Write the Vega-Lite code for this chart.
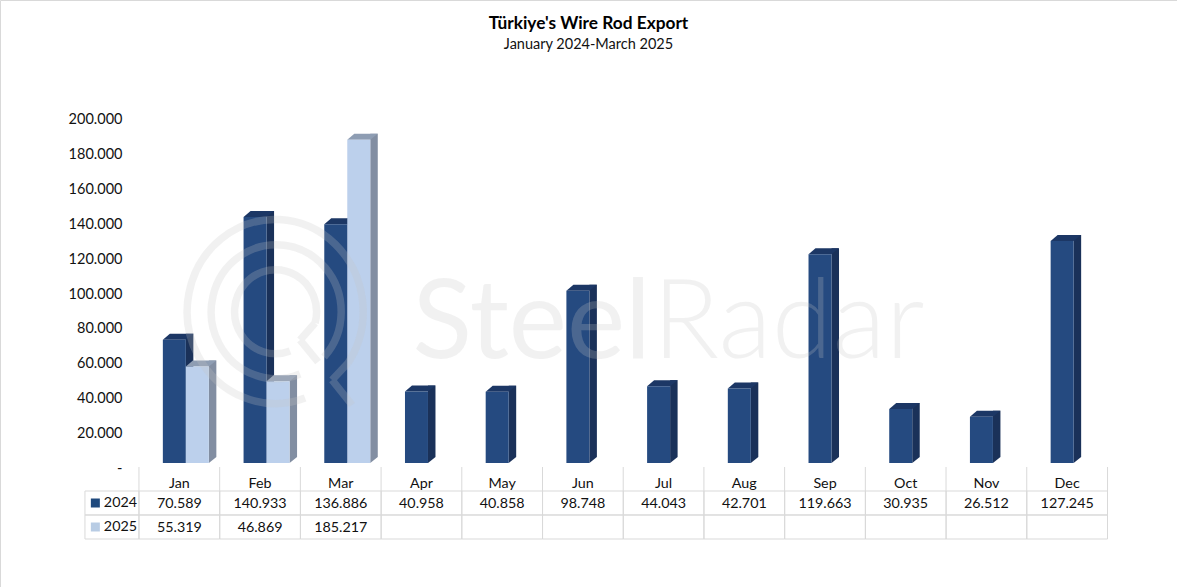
{"$schema":"https://vega.github.io/schema/vega-lite/v6.json","width":1177,"height":587,"padding":0,"autosize":{"type":"none"},"background":"white","view":{"stroke":"#d9d9d9","strokeWidth":1},
"config":{"text":{"font":"Lato","fontSize":14.3,"color":"#111111"},"axis":{"labelFont":"Lato"}},
"title":{"text":"Türkiye's Wire Rod Export","subtitle":"January 2024-March 2025","anchor":"middle","frame":"group","font":"Lato","fontSize":17.3,"fontWeight":"bold","color":"#000000","subtitleFont":"Lato","subtitleFontSize":14.5,"subtitleColor":"#111111","subtitlePadding":5,"offset":-51},
"data":{"values":[
{"month":"Jan","series":"2024","value":70589,"label":"70.589"},{"month":"Feb","series":"2024","value":140933,"label":"140.933"},{"month":"Mar","series":"2024","value":136886,"label":"136.886"},{"month":"Apr","series":"2024","value":40958,"label":"40.958"},{"month":"May","series":"2024","value":40858,"label":"40.858"},{"month":"Jun","series":"2024","value":98748,"label":"98.748"},{"month":"Jul","series":"2024","value":44043,"label":"44.043"},{"month":"Aug","series":"2024","value":42701,"label":"42.701"},{"month":"Sep","series":"2024","value":119663,"label":"119.663"},{"month":"Oct","series":"2024","value":30935,"label":"30.935"},{"month":"Nov","series":"2024","value":26512,"label":"26.512"},{"month":"Dec","series":"2024","value":127245,"label":"127.245"},
{"month":"Jan","series":"2025","value":55319,"label":"55.319"},{"month":"Feb","series":"2025","value":46869,"label":"46.869"},{"month":"Mar","series":"2025","value":185217,"label":"185.217"},{"month":"Apr","series":"2025","value":null,"label":""},{"month":"May","series":"2025","value":null,"label":""},{"month":"Jun","series":"2025","value":null,"label":""},{"month":"Jul","series":"2025","value":null,"label":""},{"month":"Aug","series":"2025","value":null,"label":""},{"month":"Sep","series":"2025","value":null,"label":""},{"month":"Oct","series":"2025","value":null,"label":""},{"month":"Nov","series":"2025","value":null,"label":""},{"month":"Dec","series":"2025","value":null,"label":""}
]},
"encoding":{"x":{"field":"month","type":"nominal","axis":null,"sort":null,"scale":{"type":"band","domain":["Jan","Feb","Mar","Apr","May","Jun","Jul","Aug","Sep","Oct","Nov","Dec"],"range":[139,1107.5],"paddingInner":0,"paddingOuter":0}}},
"layer":[
{"encoding":{"y":{"field":"value","type":"quantitative","stack":null,"scale":{"domain":[0,200000],"range":[463,114],"nice":false,"zero":true},"axis":{"orient":"left","title":null,"offset":-124,"values":[0,20000,40000,60000,80000,100000,120000,140000,160000,180000,200000],"domain":false,"ticks":false,"grid":false,"labelPadding":2,"labelOffset":5.5,"labelFontSize":14.5,"labelColor":"#111111","labelFont":"Lato","labelExpr":"datum.value == 0 ? '-' : replace(format(datum.value, ','), ',', '.')"}}},
"layer":[
{"transform":[{"filter":"datum.series == '2024' && datum.value != null"}],"layer":[
{"mark":{"type":"bar","width":7.5,"xOffset":10.25,"yOffset":-6,"y2Offset":-6,"fill":"#1a3159"},"encoding":{"y2":{"datum":0}}},
{"mark":{"type":"point","shape":"M11.5,-6L11.5,0L19,-6Z","size":4,"filled":true,"opacity":1,"fill":"#1a3159","xOffset":-5},"encoding":{"y":{"datum":0}}},
{"mark":{"type":"point","shape":"M-11.5,0L11.5,0L19,-6L-4.5,-6Z","size":4,"filled":true,"opacity":1,"fill":"#1c3765","xOffset":-5}},
{"mark":{"type":"bar","width":23,"xOffset":-5,"fill":"#254a80"},"encoding":{"y2":{"datum":0}}}
]},
{"transform":[{"filter":"datum.series == '2025' && datum.value != null"}],"layer":[
{"mark":{"type":"bar","width":7.5,"xOffset":33.25,"yOffset":-6,"y2Offset":-6,"fill":"#828ea2"},"encoding":{"y2":{"datum":0}}},
{"mark":{"type":"point","shape":"M11.5,-6L11.5,0L19,-6Z","size":4,"filled":true,"opacity":1,"fill":"#828ea2","xOffset":18},"encoding":{"y":{"datum":0}}},
{"mark":{"type":"point","shape":"M-11.5,0L11.5,0L19,-6L-4.5,-6Z","size":4,"filled":true,"opacity":1,"fill":"#8e9db3","xOffset":18}},
{"mark":{"type":"bar","width":23,"xOffset":18,"fill":"#bcd0ec"},"encoding":{"y2":{"datum":0}}}
]},
{"transform":[{"filter":"datum.series == '2024' && datum.month == 'Feb'"}],"mark":{"type":"point","shape":"M39,11A41,42 0 1 0 14,39M24,28L39,11M24,28L42,50M48,45A65,67 0 1 0 24,62M72,51A88,92 0 1 0 29,86M56,68L72,51M56,68L76,93","size":4,"filled":false,"fill":"transparent","stroke":"#c4c4c4","strokeWidth":7.5,"strokeOpacity":0.24,"opacity":1,"xOffset":16},"encoding":{"y":{"datum":86533}}},
{"transform":[{"filter":"datum.series == '2024' && datum.month == 'Apr'"}],"mark":{"type":"text","font":"Lato","fontSize":110,"align":"left","baseline":"alphabetic","color":"#c4c4c4","fill":"#c4c4c4","fillOpacity":0.24,"xOffset":-9},"encoding":{"y":{"datum":60172},"text":{"value":"Steel"}}},
{"transform":[{"filter":"datum.series == '2024' && datum.month == 'Jul'"}],"mark":{"type":"text","font":"Lato","fontWeight":300,"fontSize":110,"align":"left","baseline":"alphabetic","color":"#c4c4c4","fill":"#c4c4c4","fillOpacity":0.24,"xOffset":-11},"encoding":{"y":{"datum":60172},"text":{"value":"Radar"}}}
]},
{"encoding":{"y":{"field":"series","type":"nominal","axis":null,"scale":{"type":"band","domain":["month","2024","2025"],"range":[467,539],"paddingInner":0,"paddingOuter":0}}},
"layer":[
{"mark":{"type":"rect","fill":"white","fillOpacity":0,"stroke":"#d9d9d9","strokeWidth":1}},
{"transform":[{"filter":"datum.series == '2024'"}],"mark":{"type":"bar","width":1,"xOffset":-40.4,"fill":"#d9d9d9"},"encoding":{"y":{"datum":"month"}}},
{"transform":[{"filter":"datum.series == '2024' && datum.month == 'Dec'"}],"mark":{"type":"bar","width":1,"xOffset":40.4,"fill":"#d9d9d9"},"encoding":{"y":{"datum":"month"}}},
{"transform":[{"filter":"datum.month == 'Jan'"}],"mark":{"type":"bar","width":54,"xOffset":-67.4,"fill":"white","fillOpacity":0,"stroke":"#d9d9d9","strokeWidth":1}},
{"transform":[{"filter":"datum.month == 'Jan'"}],"mark":{"type":"square","size":81,"opacity":1,"xOffset":-84},"encoding":{"color":{"field":"series","type":"nominal","legend":null,"scale":{"domain":["2024","2025"],"range":["#1f497d","#b8cce4"]}}}},
{"transform":[{"filter":"datum.month == 'Jan'"}],"mark":{"type":"text","align":"left","xOffset":-75.5,"yOffset":0},"encoding":{"text":{"field":"series"}}},
{"mark":{"type":"text","yOffset":1},"encoding":{"text":{"field":"label"}}},
{"transform":[{"filter":"datum.series == '2024'"}],"mark":{"type":"text","yOffset":5},"encoding":{"y":{"datum":"month"},"text":{"field":"month"}}}
]}
],
"resolve":{"scale":{"y":"independent"}}}
